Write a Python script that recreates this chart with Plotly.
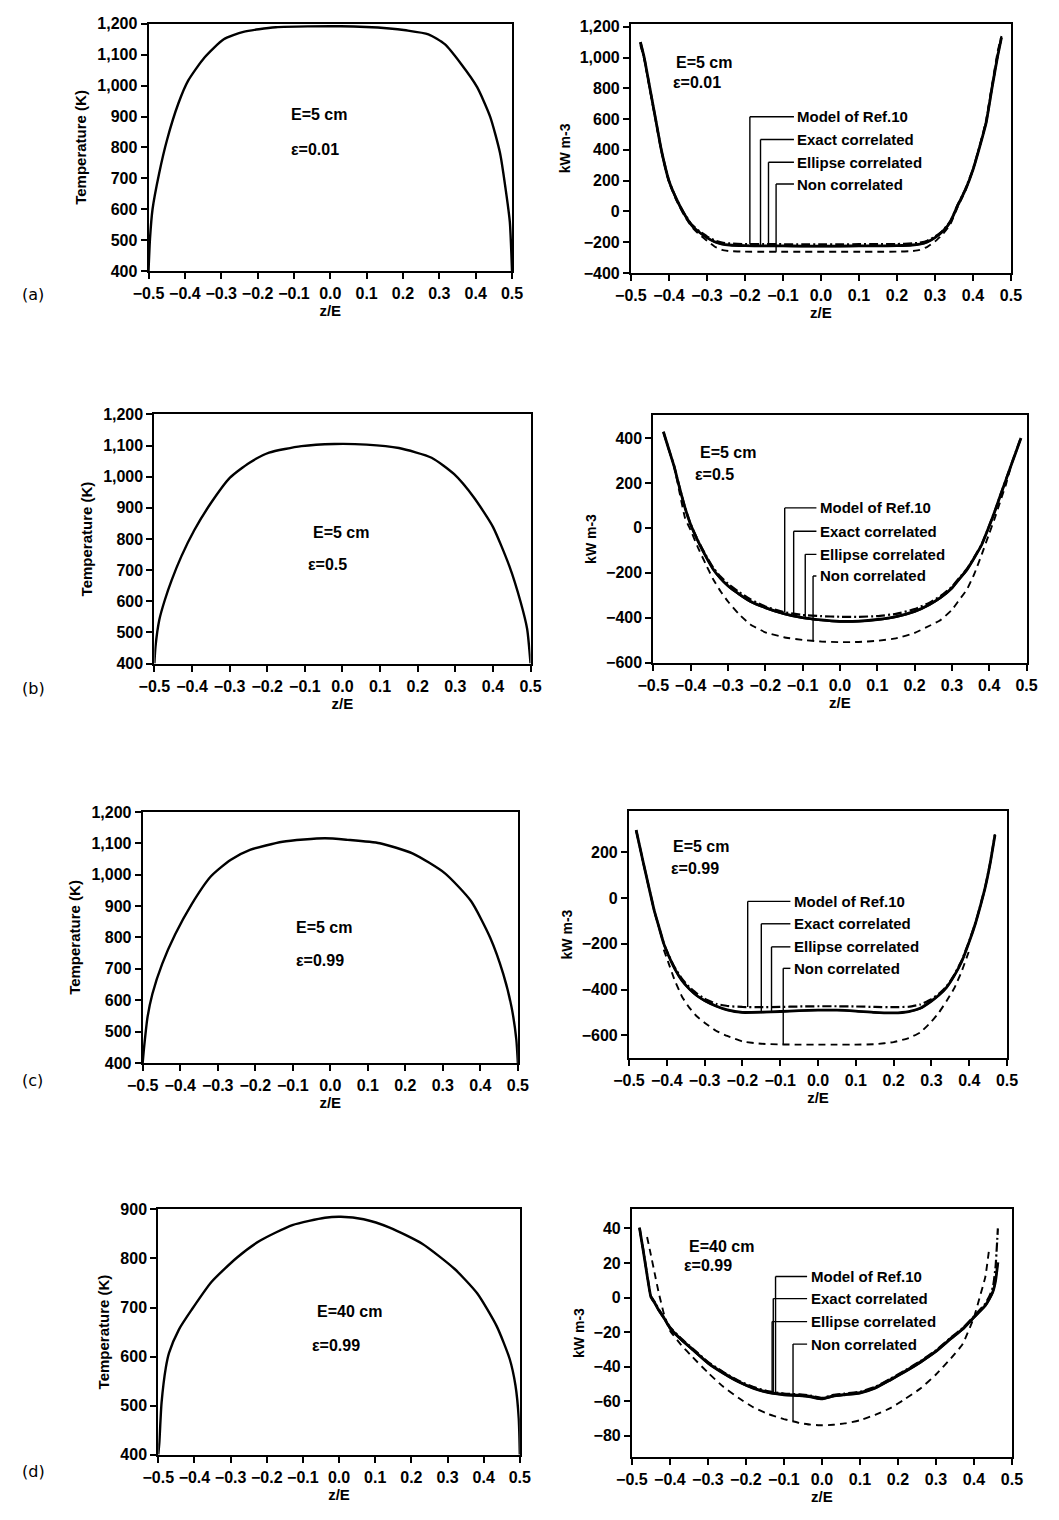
import numpy as np
import plotly.graph_objects as go

W, H = 1059, 1520
FONT = "Liberation Sans, Arial, sans-serif"

# ---------------- axis ticks ----------------
x_ticks = [-0.5, -0.4, -0.3, -0.2, -0.1, 0.0, 0.1, 0.2, 0.3, 0.4, 0.5]
T_ticks_5cm = [400, 500, 600, 700, 800, 900, 1000, 1100, 1200]
T_ticks_40cm = [400, 500, 600, 700, 800, 900]
q_ticks_a = [-400, -200, 0, 200, 400, 600, 800, 1000, 1200]
q_ticks_b = [-600, -400, -200, 0, 200, 400]
q_ticks_c = [-600, -400, -200, 0, 200]
q_ticks_d = [-80, -60, -40, -20, 0, 20, 40]

series_names = ["Model of Ref.10", "Exact correlated", "Ellipse correlated", "Non correlated"]
panel_letters = ["(a)", "(b)", "(c)", "(d)"]
case_E = ["E=5 cm", "E=5 cm", "E=5 cm", "E=40 cm"]
case_eps = ["\u03b5=0.01", "\u03b5=0.5", "\u03b5=0.99", "\u03b5=0.99"]

# ---------------- temperature profiles (left column) ----------------
z_T_a = [-0.5, -0.496, -0.489, -0.471, -0.449, -0.418, -0.391, -0.346, -0.293, -0.239, -0.15,
         0.029, 0.163, 0.208, 0.27, 0.315, 0.36, 0.404, 0.44, 0.467, 0.485, 0.494, 0.5]
T_a = [400, 504, 600, 715, 825, 942, 1016, 1091, 1150, 1174, 1189,
       1192, 1185, 1179, 1166, 1134, 1070, 995, 899, 782, 643, 558, 400]

z_T_b = [-0.5, -0.497, -0.487, -0.472, -0.454, -0.428, -0.394, -0.351, -0.299, -0.247, -0.195,
         -0.109, -0.022, 0.064, 0.15, 0.237, 0.297, 0.349, 0.40, 0.444, 0.474, 0.491, 0.5]
T_b = [400, 455, 540, 605, 668, 745, 828, 913, 997, 1045, 1077,
       1098, 1105, 1103, 1092, 1061, 1008, 934, 839, 712, 596, 511, 400]

z_T_c = [-0.5, -0.496, -0.487, -0.474, -0.448, -0.413, -0.37, -0.318, -0.266, -0.214, -0.127,
         -0.015, 0.046, 0.132, 0.219, 0.305, 0.375, 0.426, 0.461, 0.483, 0.496, 0.5]
T_c = [400, 453, 547, 621, 716, 811, 905, 995, 1047, 1079, 1105,
       1116, 1111, 1100, 1068, 1005, 916, 800, 684, 579, 474, 400]

z_T_d = [-0.5, -0.497, -0.491, -0.479, -0.470, -0.443, -0.408, -0.353, -0.282, -0.219, -0.129,
         -0.039, 0.005, 0.068, 0.14, 0.23, 0.319, 0.382, 0.436, 0.472, 0.488, 0.497, 0.5]
T_d = [400, 425, 505, 578, 608, 655, 695, 752, 802, 836, 868,
       883, 885, 880, 863, 830, 779, 729, 662, 595, 541, 474, 400]

# ---------------- radiative source term (right column), kW m-3 ----------------
z_q_a = [-0.475, -0.465, -0.45, -0.435, -0.42, -0.40, -0.38, -0.36, -0.34, -0.32, -0.30, -0.28, -0.26,
         -0.24, -0.20, -0.15, -0.10, -0.05, 0.0, 0.05, 0.10, 0.15, 0.20, 0.24, 0.26, 0.28, 0.30,
         0.32, 0.34, 0.36, 0.38, 0.40, 0.42, 0.435, 0.45, 0.465, 0.475]
model_a = [1100, 1000, 800, 600, 400, 200, 80, -12, -85, -128, -162, -188, -203,
           -208, -212, -213, -213, -214, -214, -214, -213, -213, -212, -208, -203, -190, -163,
           -125, -65, 45, 145, 275, 445, 585, 805, 1015, 1135]
exact_a = [1100, 1000, 800, 600, 400, 200, 80, -15, -90, -135, -170, -197, -212,
           -218, -222, -224, -224, -225, -225, -225, -224, -224, -222, -218, -212, -198, -170,
           -130, -70, 40, 140, 270, 440, 580, 800, 1010, 1130]
ellipse_a = [1095, 995, 795, 595, 395, 195, 75, -18, -92, -137, -172, -199, -214,
             -220, -224, -226, -226, -227, -227, -227, -226, -226, -224, -220, -214, -200, -172,
             -132, -72, 38, 138, 268, 438, 578, 795, 1005, 1125]
noncorr_a = [1080, 990, 790, 590, 390, 190, 70, -25, -100, -150, -190, -228, -250,
             -258, -261, -262, -262, -262, -262, -262, -262, -262, -261, -258, -250, -230, -195,
             -150, -85, 30, 135, 270, 445, 600, 820, 1040, 1140]

z_q_b = [-0.473, -0.46, -0.445, -0.43, -0.415, -0.40, -0.38, -0.36, -0.34, -0.32, -0.30, -0.27,
         -0.24, -0.20, -0.15, -0.10, -0.05, 0.0, 0.05, 0.10, 0.15, 0.20, 0.24, 0.27, 0.30,
         0.32, 0.34, 0.36, 0.38, 0.40, 0.415, 0.43, 0.445, 0.46, 0.473, 0.485]
model_b = [428, 358, 280, 183, 90, 17, -57, -120, -176, -217, -249, -286,
           -318, -350, -375, -388, -393, -396, -396, -393, -383, -362, -333, -303, -262,
           -222, -183, -130, -72, 10, 76, 147, 217, 287, 347, 402]
exact_b = [428, 358, 278, 180, 89, 15, -60, -125, -183, -225, -258, -295,
           -327, -355, -382, -400, -410, -416, -415, -408, -395, -372, -341, -310, -268,
           -227, -187, -133, -74, 8, 74, 145, 215, 285, 345, 400]
ellipse_b = [425, 355, 275, 177, 86, 12, -63, -128, -186, -228, -261, -298,
             -330, -358, -385, -403, -413, -419, -418, -411, -398, -375, -344, -313, -271,
             -230, -190, -136, -77, 5, 71, 142, 212, 282, 342, 397]
noncorr_b = [None, None, 280, 160, 44, -10, -89, -160, -228, -282, -328, -385,
             -430, -465, -487, -499, -506, -509, -508, -503, -492, -468, -436, -410, -365,
             -320, -275, -205, -118, -25, 44, 120, 195, 285, None, None]

z_q_c = [-0.481, -0.47, -0.459, -0.446, -0.433, -0.42, -0.408, -0.395, -0.38, -0.36, -0.34, -0.32,
         -0.30, -0.27, -0.24, -0.20, -0.15, -0.10, -0.05, 0.0, 0.05, 0.10, 0.15, 0.20, 0.24,
         0.27, 0.30, 0.32, 0.34, 0.36, 0.38, 0.40, 0.416, 0.43, 0.442, 0.455, 0.468]
model_c = [298, 215, 133, 38, -55, -130, -197, -249, -300, -352, -390, -418,
           -440, -462, -472, -476, -477, -476, -474, -473, -473, -474, -476, -477, -475,
           -465, -442, -418, -386, -336, -273, -187, -110, -28, 48, 152, 280]
exact_c = [298, 215, 133, 38, -55, -130, -199, -252, -305, -360, -398, -427,
           -448, -472, -489, -500, -499, -496, -492, -490, -490, -494, -500, -502, -496,
           -482, -450, -424, -390, -340, -277, -190, -112, -30, 46, 150, 277]
ellipse_c = [295, 212, 130, 35, -58, -133, -202, -255, -308, -362, -400, -429,
             -450, -473, -490, -501, -500, -497, -493, -491, -491, -495, -501, -503, -497,
             -484, -452, -426, -392, -342, -280, -193, -115, -33, 43, 147, 274]
noncorr_c = [None, None, None, None, None, None, -225, -285, -355, -430, -480, -518,
             -545, -580, -603, -627, -637, -640, -641, -641, -641, -641, -639, -630, -612,
             -588, -540, -500, -450, -395, -320, -228, None, None, None, None, None]

z_q_d = [-0.48, -0.47, -0.46, -0.45, -0.44, -0.43, -0.415, -0.40, -0.37, -0.34, -0.30, -0.26,
         -0.22, -0.18, -0.14, -0.10, -0.06, -0.03, 0.0, 0.03, 0.06, 0.10, 0.14, 0.18, 0.22,
         0.26, 0.30, 0.34, 0.37, 0.40, 0.415, 0.43, 0.44, 0.45, 0.457, 0.463]
model_d = [40.5, 27.5, 13.5, 1.0, -2.5, -6.5, -11.5, -17.0, -23.7, -29.5, -37.2, -43.0,
           -48.0, -51.8, -54.3, -55.5, -56.0, -56.7, -58.0, -56.3, -55.5, -54.5, -51.7, -47.0, -42.0,
           -36.6, -30.5, -23.0, -17.7, -10.8, -7.2, -3.5, 0.5, 6.0, 18.0, 40.0]
exact_d = [40.4, 27.0, 13.0, 0.4, -3.0, -7.0, -12.0, -17.5, -24.2, -30.0, -37.7, -43.5,
           -48.5, -52.3, -54.8, -56.0, -56.5, -57.2, -58.5, -56.8, -56.0, -55.0, -52.2, -47.5, -42.5,
           -37.1, -31.0, -23.5, -18.2, -11.3, -8.0, -4.5, -1.0, 3.5, 9.9, 20.4]
ellipse_d = [40.0, 26.5, 12.5, 0.0, -3.5, -7.5, -12.5, -18.0, -24.8, -30.6, -38.3, -44.1,
             -49.1, -52.9, -55.4, -56.6, -57.1, -57.8, -59.0, -57.4, -56.6, -55.6, -52.8, -48.1, -43.1,
             -37.7, -31.6, -24.1, -18.8, -11.9, -8.5, -5.0, -1.5, 3.0, 9.5, 20.0]
noncorr_d = [None, None, 35.0, 24.7, 14.0, 3.4, -10.0, -19.0, -27.5, -34.5, -43.4, -51.5,
             -58.0, -63.5, -67.5, -70.3, -72.5, -73.5, -73.9, -73.6, -72.8, -71.0, -67.8, -64.0, -58.5,
             -52.5, -44.5, -35.0, -27.0, -11.5, 0.0, 12.0, 28.0, None, None, None]

# ---------------- labelled leader lines (legend) ----------------
leader_z_a = [-0.187, -0.159, -0.138, -0.118]
label_q_a = [615, 467, 320, 178]
leader_z_b = [-0.148, -0.124, -0.093, -0.072]
label_q_b = [89, -15, -118, -214]
leader_z_c = [-0.186, -0.150, -0.123, -0.092]
label_q_c = [-14, -112, -213, -307]
leader_z_d = [-0.122, -0.128, -0.131, -0.076]
label_q_d = [12.2, -0.6, -13.9, -26.9]
label_z = [-0.067, -0.059, -0.069, -0.035]

# ================= layout geometry (pixels) =================
left_boxes = [(136, 509, 16, 266), (142, 528, 411, 663), (130, 515, 813, 1067), (146, 517, 1215, 1463)]
right_boxes = [(631, 1021, 16, 268), (654, 1037, 412, 662), (629, 1017, 812, 1062), (632, 1022, 1215, 1465)]
T_ranges = [[400, 1200], [400, 1200], [400, 1200], [400, 900]]
q_ranges = [[-400, 1219], [-600, 501], [-700, 382], [-92, 51]]
letter_y_px = [290, 688, 1085, 1480]
left_text_pos = [((-0.114, 906), (-0.114, 794)), ((-0.083, 822), (-0.098, 717)),
                 ((-0.097, 831), (-0.097, 728)), ((-0.066, 692), (-0.080, 622))]
right_text_pos = [((-0.387, 969), (-0.395, 840)), ((-0.380, 334), (-0.393, 237)),
                  ((-0.389, 226), (-0.394, 131)), ((-0.356, 29.7), (-0.369, 18.3))]

T_profiles = [(z_T_a, T_a), (z_T_b, T_b), (z_T_c, T_c), (z_T_d, T_d)]
T_tickvals = [T_ticks_5cm, T_ticks_5cm, T_ticks_5cm, T_ticks_40cm]
q_sets = [(z_q_a, [model_a, exact_a, ellipse_a, noncorr_a]),
          (z_q_b, [model_b, exact_b, ellipse_b, noncorr_b]),
          (z_q_c, [model_c, exact_c, ellipse_c, noncorr_c]),
          (z_q_d, [model_d, exact_d, ellipse_d, noncorr_d])]
q_tickvals = [q_ticks_a, q_ticks_b, q_ticks_c, q_ticks_d]
leaders = [(leader_z_a, label_q_a), (leader_z_b, label_q_b), (leader_z_c, label_q_c), (leader_z_d, label_q_d)]

series_styles = [dict(width=2.2, dash="9px,3px,2px,3px"),
                 dict(width=2.8, dash="solid"),
                 dict(width=1.5, dash="solid"),
                 dict(width=1.9, dash="7px,5px")]

TICKFONT = dict(family=FONT, size=16, color="black", weight="bold")
TITLEFONT = dict(family=FONT, size=15, color="black", weight="bold")
YTITLEFONT_R = dict(family=FONT, size=14, color="black", weight="bold")
TEXTFONT = dict(family=FONT, size=16, color="black", weight="bold")
LEGFONT = dict(family=FONT, size=15, color="black", weight="bold")


def interp_valid(zs, vs, z0):
    pts = [(a, b) for a, b in zip(zs, vs) if b is not None]
    xs = [p[0] for p in pts]
    ys = [p[1] for p in pts]
    return float(np.interp(z0, xs, ys))


fig = go.Figure()
layout = dict(width=W, height=H, margin=dict(l=0, r=0, t=0, b=0), autosize=False,
              paper_bgcolor="white", plot_bgcolor="white", showlegend=False)
annotations = []
shapes = []


def axis_common():
    return dict(showline=True, mirror=True, linecolor="black", linewidth=2,
                ticks="outside", ticklen=6, tickwidth=2, tickcolor="black",
                showgrid=False, zeroline=False, tickfont=TICKFONT, tickangle=0)


for i in range(4):
    # ---- left: temperature ----
    n = 2 * i + 1
    xl, xr, yt, yb = left_boxes[i]
    xa = "xaxis" if n == 1 else f"xaxis{n}"
    ya = "yaxis" if n == 1 else f"yaxis{n}"
    xs = "x" if n == 1 else f"x{n}"
    ys = "y" if n == 1 else f"y{n}"
    ax = axis_common()
    ax.update(domain=[xl / W, xr / W], anchor=ys, range=[-0.5, 0.5], tickvals=x_ticks,
              tickformat=".1f", ticklabelstandoff=1,
              title=dict(text="z/E", font=TITLEFONT, standoff=3))
    ay = axis_common()
    ay.update(domain=[1 - yb / H, 1 - yt / H], anchor=xs, range=T_ranges[i],
              tickvals=T_tickvals[i], tickformat=",d", ticklabelstandoff=0,
              title=dict(text="Temperature (K)", font=TITLEFONT, standoff=7))
    layout[xa] = ax
    layout[ya] = ay
    zz, TT = T_profiles[i]
    fig.add_trace(go.Scatter(x=zz, y=TT, mode="lines", xaxis=xs, yaxis=ys,
                             line=dict(color="black", width=2.4, shape="spline", smoothing=0.6),
                             name="Temperature"))
    (ex, ey), (px_, py_) = left_text_pos[i]
    annotations.append(dict(x=ex, y=ey, xref=xs, yref=ys, text=case_E[i], showarrow=False,
                            xanchor="left", yanchor="middle", font=TEXTFONT))
    annotations.append(dict(x=px_, y=py_, xref=xs, yref=ys, text=case_eps[i], showarrow=False,
                            xanchor="left", yanchor="middle", font=TEXTFONT))
    annotations.append(dict(x=4 / W, y=1 - letter_y_px[i] / H, xref="paper", yref="paper",
                            text=panel_letters[i], showarrow=False, xanchor="left", yanchor="middle",
                            font=dict(family="DejaVu Sans", size=16, color="black")))

    # ---- right: source term ----
    n = 2 * i + 2
    xl, xr, yt, yb = right_boxes[i]
    xa, ya, xs, ys = f"xaxis{n}", f"yaxis{n}", f"x{n}", f"y{n}"
    ax = axis_common()
    ax.update(domain=[xl / W, xr / W], anchor=ys, range=[-0.5, 0.5], tickvals=x_ticks,
              tickformat=".1f", ticklabelstandoff=1,
              title=dict(text="z/E", font=TITLEFONT, standoff=3))
    ay = axis_common()
    ay.update(domain=[1 - yb / H, 1 - yt / H], anchor=xs, range=q_ranges[i],
              tickvals=q_tickvals[i], tickformat=",d", ticklabelstandoff=0,
              title=dict(text="kW m-3", font=YTITLEFONT_R, standoff=6))
    layout[xa] = ax
    layout[ya] = ay
    zq, vals = q_sets[i]
    for k in range(4):
        st = series_styles[k]
        fig.add_trace(go.Scatter(x=zq, y=vals[k], mode="lines", xaxis=xs, yaxis=ys,
                                 name=series_names[k], connectgaps=False,
                                 line=dict(color="black", width=st["width"], dash=st["dash"],
                                           shape="spline", smoothing=0.4)))
    (ex, ey), (px_, py_) = right_text_pos[i]
    annotations.append(dict(x=ex, y=ey, xref=xs, yref=ys, text=case_E[i], showarrow=False,
                            xanchor="left", yanchor="middle", font=TEXTFONT))
    annotations.append(dict(x=px_, y=py_, xref=xs, yref=ys, text=case_eps[i], showarrow=False,
                            xanchor="left", yanchor="middle", font=TEXTFONT))
    lz, lq = leaders[i]
    for k in range(4):
        bottom = interp_valid(zq, vals[k], lz[k])
        shapes.append(dict(type="line", xref=xs, yref=ys, x0=lz[k], x1=label_z[i] - 0.004,
                           y0=lq[k], y1=lq[k], line=dict(color="black", width=1.4)))
        shapes.append(dict(type="line", xref=xs, yref=ys, x0=lz[k], x1=lz[k],
                           y0=lq[k], y1=bottom, line=dict(color="black", width=1.4)))
        annotations.append(dict(x=label_z[i], y=lq[k], xref=xs, yref=ys, text=series_names[k],
                                showarrow=False, xanchor="left", yanchor="middle", font=LEGFONT))

layout["annotations"] = annotations
layout["shapes"] = shapes
fig.update_layout(**layout)
fig.write_html("out.html")
